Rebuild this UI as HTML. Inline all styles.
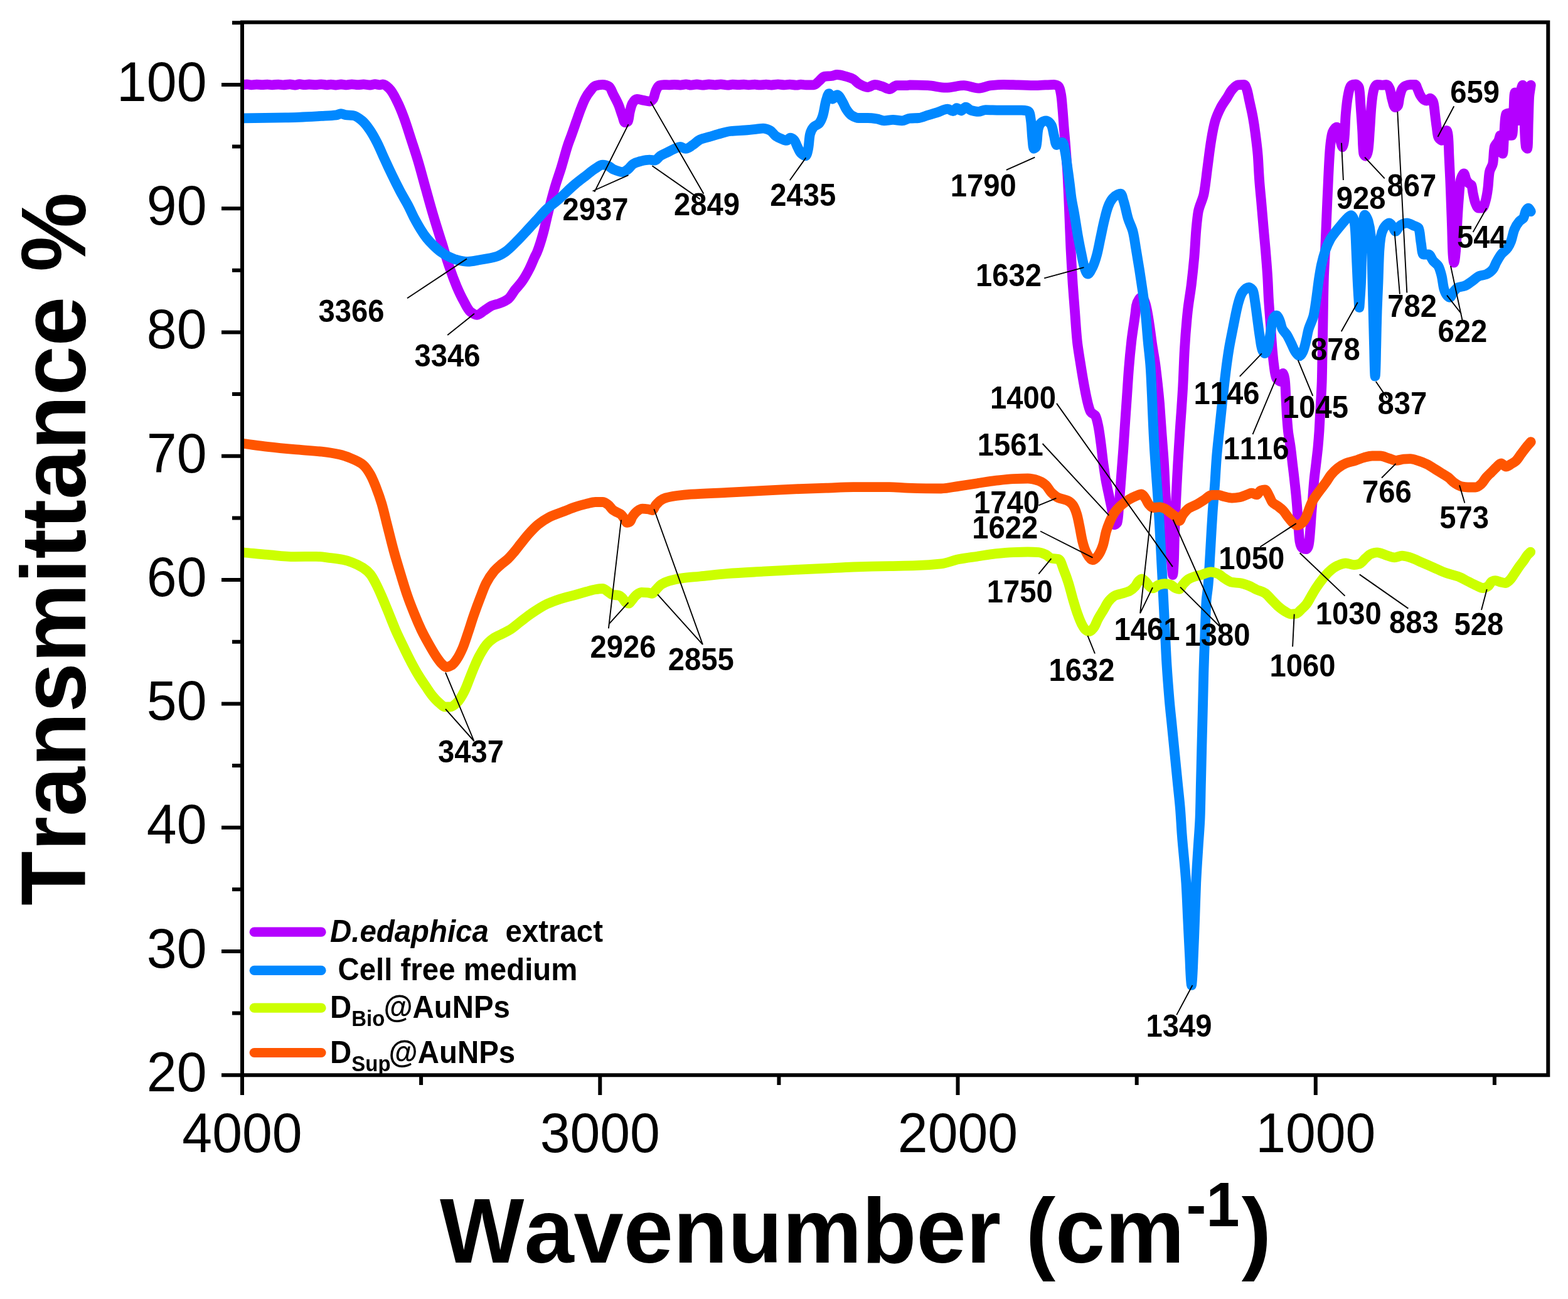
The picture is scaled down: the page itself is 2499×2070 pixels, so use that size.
<!DOCTYPE html>
<html lang="en"><head><meta charset="utf-8"><title>FTIR spectra</title>
<style>html,body{margin:0;padding:0;background:#fff}body{width:2499px;height:2070px;overflow:hidden}svg{display:block}text{font-family:"Liberation Sans",Arial,Helvetica,sans-serif;fill:#000;font-kerning:none}.tk{font-size:86px}.an{font-size:47.2px;font-weight:bold}.lg{font-size:47.4px;font-weight:bold}.ti{font-size:142px;font-weight:bold}.cv{fill:none;stroke-width:15.8;stroke-linejoin:round;stroke-linecap:round}.ld{stroke:#000;stroke-width:1.9;fill:none}.ax{stroke:#000;stroke-width:6.0;fill:none;stroke-linecap:butt}</style></head><body>
<svg width="2499" height="2070" viewBox="0 0 2499 2070">
<rect width="2499" height="2070" fill="#fff"/>
<defs><clipPath id="plot"><rect x="386.0" y="35.6" width="2081.3" height="1677.7"/></clipPath></defs>
<g clip-path="url(#plot)">
<path class="cv" stroke="#B400FF" d="M386.0 135.3C388.5 135.0 391.0 134.3 393.5 134.3C395.9 134.3 398.2 135.4 400.6 135.4C403.4 135.4 406.1 134.6 408.9 134.6C411.9 134.6 414.8 135.1 417.8 135.1C420.6 135.1 423.5 134.6 426.3 134.6C428.7 134.6 431.2 135.3 433.6 135.3C436.9 135.3 440.3 134.6 443.6 134.6C446.2 134.6 448.8 135.4 451.4 135.4C454.9 135.4 458.4 134.4 461.9 134.4C464.7 134.4 467.5 135.6 470.3 135.6C472.7 135.6 475.0 134.2 477.4 134.2C480.1 134.2 482.7 135.2 485.4 135.2C487.8 135.2 490.3 134.5 492.7 134.5C496.1 134.5 499.4 135.2 502.8 135.2C505.8 135.2 508.9 134.3 511.9 134.3C514.7 134.3 517.4 135.4 520.2 135.4C522.6 135.4 524.9 134.6 527.3 134.6C529.9 134.6 532.4 135.5 535.0 135.5C537.9 135.5 540.7 134.5 543.6 134.5C546.6 134.5 549.7 135.4 552.7 135.4C555.4 135.4 558.0 134.3 560.7 134.3C563.9 134.3 567.1 135.2 570.3 135.2C573.3 135.2 576.4 134.4 579.4 134.4C582.8 134.4 586.3 135.5 589.7 135.5C592.4 135.5 595.0 134.2 597.7 134.2C600.1 134.2 602.6 135.3 605.0 135.3C606.7 135.3 608.6 134.5 610.2 134.5C613.8 134.5 617.6 138.4 620.2 140.9C625.5 146.0 629.1 154.0 632.6 161.0C636.9 169.3 640.3 178.1 643.6 186.9C647.8 198.2 651.3 209.9 655.0 221.4C659.0 233.8 663.2 246.2 666.9 258.7C671.1 273.0 674.8 287.5 678.9 301.9C682.9 316.3 686.8 330.7 691.1 345.0C695.1 358.5 699.4 371.8 703.6 385.2C707.8 398.6 711.6 412.2 716.2 425.5C719.8 436.1 723.7 446.7 728.1 457.1C731.4 464.8 735.0 472.6 739.1 479.9C742.4 485.9 745.4 493.4 750.1 497.2C752.7 499.1 756.8 501.8 760.0 501.8C764.2 501.8 768.2 497.1 772.2 494.6C775.9 492.4 779.2 489.2 783.0 487.5C787.3 485.6 792.3 485.0 796.7 483.2C801.4 481.4 806.7 479.1 810.3 476.1C814.6 472.6 817.3 466.4 821.0 461.7C824.4 457.4 828.5 453.4 831.7 448.9C836.2 442.6 840.1 435.6 843.6 428.7C847.0 422.2 849.5 415.2 852.6 408.6C853.6 406.6 854.8 404.6 855.7 402.5C859.9 392.3 863.0 381.6 865.9 370.9C868.8 360.5 870.8 349.7 873.5 339.2C876.9 325.8 880.3 312.3 884.2 299.0C887.3 288.4 891.1 278.0 894.4 267.4C898.2 255.0 901.3 242.3 905.4 230.0C906.9 225.5 908.7 221.1 910.3 216.7C913.1 209.1 915.7 201.4 918.4 193.7C920.8 187.0 923.0 180.2 925.6 173.6C927.9 167.8 930.1 161.8 933.0 156.4C935.1 152.4 937.8 148.4 940.7 144.9C943.1 142.0 945.7 137.9 948.9 136.8C952.1 135.7 956.6 134.8 960.4 134.8C963.8 134.8 968.1 136.3 970.4 137.7C973.6 139.7 975.3 146.2 977.6 150.6C980.6 156.3 983.8 162.0 986.2 167.9C988.4 173.5 989.9 179.5 992.0 185.1C993.3 188.5 994.2 195.2 996.3 195.2C997.2 195.2 1000.0 194.4 1000.6 193.7C1002.4 191.5 1002.4 184.1 1003.5 179.4C1004.7 174.5 1005.7 169.0 1007.8 165.0C1009.2 162.3 1012.2 157.8 1015.0 157.8C1018.2 157.8 1022.7 159.4 1026.5 160.1C1029.4 160.6 1032.5 161.5 1035.1 161.5C1037.2 161.5 1039.8 159.3 1040.9 157.8C1043.1 154.8 1043.4 148.9 1045.2 144.9C1046.6 141.8 1048.4 137.1 1050.9 136.2C1052.6 135.6 1055.7 135.1 1058.1 135.1C1060.7 135.1 1063.4 135.3 1066.0 135.3C1068.9 135.3 1071.9 134.8 1074.8 134.8C1077.9 134.8 1081.1 135.6 1084.2 135.6C1087.2 135.6 1090.3 134.3 1093.3 134.3C1096.0 134.3 1098.7 135.6 1101.4 135.6C1104.5 135.6 1107.5 134.5 1110.6 134.5C1113.5 134.5 1116.4 135.7 1119.3 135.7C1122.8 135.7 1126.3 134.5 1129.8 134.5C1132.9 134.5 1136.1 135.3 1139.2 135.3C1142.4 135.3 1145.6 134.4 1148.8 134.4C1152.4 134.4 1156.0 135.7 1159.6 135.7C1162.2 135.7 1164.9 134.6 1167.5 134.6C1170.7 134.6 1173.8 135.2 1177.0 135.2C1179.9 135.2 1182.8 134.7 1185.7 134.7C1188.1 134.7 1190.6 135.3 1193.0 135.3C1196.3 135.3 1199.6 134.7 1202.9 134.7C1205.5 134.7 1208.1 135.4 1210.7 135.4C1214.1 135.4 1217.6 134.7 1221.0 134.7C1223.9 134.7 1226.7 135.5 1229.6 135.5C1233.0 135.5 1236.5 134.3 1239.9 134.3C1243.3 134.3 1246.7 135.4 1250.1 135.4C1252.9 135.4 1255.8 134.6 1258.6 134.6C1262.0 134.6 1265.5 135.7 1268.9 135.7C1271.4 135.7 1273.8 134.7 1276.3 134.7C1278.9 134.7 1281.5 135.3 1284.1 135.3C1288.3 135.4 1293.0 135.4 1296.7 135.4C1299.9 135.4 1302.6 131.3 1305.4 129.1C1308.3 126.8 1310.8 122.4 1314.0 121.9C1317.3 121.4 1321.7 121.5 1325.5 121.0C1328.4 120.7 1331.2 119.0 1334.1 119.0C1338.9 119.0 1343.8 120.7 1348.5 121.9C1352.4 122.9 1356.6 124.3 1360.0 126.2C1363.1 127.9 1365.5 131.6 1368.6 133.4C1372.9 135.9 1378.2 139.1 1383.0 139.1C1386.8 139.1 1390.6 134.8 1394.5 134.8C1398.3 134.8 1402.2 136.6 1406.0 137.7C1409.9 138.9 1413.8 142.0 1417.5 142.0C1421.4 142.0 1425.0 136.2 1429.0 136.2C1434.4 136.2 1440.5 136.2 1446.2 136.2C1447.5 136.2 1448.7 135.4 1450.0 135.4C1459.4 135.4 1469.2 135.8 1478.7 136.2C1488.3 136.6 1497.9 139.7 1507.5 139.7C1517.1 139.7 1526.7 136.2 1536.2 136.2C1543.9 136.2 1551.6 140.6 1559.2 140.6C1566.0 140.6 1572.6 136.9 1579.4 136.2C1586.0 135.5 1592.8 134.8 1599.5 134.8C1607.2 134.8 1614.8 135.2 1622.5 135.4C1632.1 135.7 1641.6 136.2 1651.2 136.2C1660.8 136.2 1670.8 134.8 1680.0 134.8C1682.4 134.8 1685.9 136.4 1687.0 137.7C1689.2 140.1 1690.3 146.2 1691.0 150.6C1692.3 158.1 1692.7 165.9 1693.4 173.6C1694.3 183.2 1694.8 192.8 1695.6 202.4C1696.5 213.9 1697.7 225.4 1698.5 236.9C1699.6 251.3 1700.7 265.6 1701.5 280.0C1702.5 299.2 1703.3 318.3 1704.1 337.5C1704.9 356.7 1705.5 375.8 1706.4 395.0C1707.4 414.2 1708.5 433.3 1709.7 452.5C1710.7 466.9 1711.9 481.2 1713.0 495.6C1714.2 511.4 1715.1 527.3 1716.7 543.1C1718.0 555.6 1720.3 568.1 1722.2 580.5C1724.0 592.0 1725.9 603.5 1728.0 615.0C1729.8 624.6 1731.5 634.3 1734.0 643.7C1735.2 648.1 1736.3 653.3 1738.5 656.7C1739.9 659.0 1744.4 660.1 1745.7 662.4C1748.0 666.5 1749.1 672.9 1750.2 678.2C1752.2 687.7 1753.3 697.4 1754.6 707.0C1756.0 717.5 1757.0 728.1 1758.4 738.6C1759.6 747.2 1760.8 755.9 1762.3 764.5C1764.0 774.1 1766.2 783.6 1768.2 793.2C1769.8 800.9 1771.6 808.5 1772.9 816.2C1774.0 822.9 1773.9 836.4 1775.9 836.4C1776.5 836.4 1779.9 834.7 1780.3 833.5C1782.7 826.4 1782.6 812.4 1783.6 801.9C1784.9 787.5 1785.9 773.1 1787.0 758.7C1788.1 744.3 1789.2 730.0 1790.3 715.6C1791.3 701.2 1792.2 686.9 1793.2 672.5C1794.2 658.1 1795.2 643.8 1796.2 629.4C1797.2 615.0 1798.0 600.6 1799.2 586.2C1800.3 571.8 1801.7 557.4 1803.3 543.1C1805.0 528.7 1807.5 514.4 1809.4 500.0C1810.0 495.6 1810.2 491.1 1811.1 486.9C1811.7 483.7 1813.0 480.0 1814.8 477.5C1815.7 476.1 1817.5 474.0 1818.9 474.0C1820.3 474.0 1822.1 476.1 1823.0 477.5C1824.6 480.0 1825.6 483.7 1826.4 486.9C1829.0 497.1 1830.4 507.7 1832.0 518.2C1833.6 528.6 1834.8 539.1 1836.3 549.5C1837.9 560.0 1839.9 570.3 1841.3 580.8C1842.7 591.2 1843.8 601.6 1845.0 612.0C1846.1 622.4 1847.2 632.9 1848.1 643.3C1848.9 653.7 1849.5 664.2 1850.3 674.6C1851.0 685.0 1851.8 695.5 1852.6 705.9C1853.4 716.2 1854.3 726.6 1854.9 736.9C1855.9 752.5 1856.4 768.2 1857.3 783.8C1858.6 804.7 1860.3 825.6 1862.1 846.4C1863.5 862.0 1865.2 877.7 1866.8 893.3C1867.6 900.9 1868.5 916.0 1869.1 916.0C1869.8 916.0 1870.5 900.9 1870.9 893.3C1871.5 877.7 1871.6 862.0 1872.2 846.4C1872.9 825.5 1873.9 804.7 1874.9 783.8C1875.7 768.2 1876.5 752.5 1877.4 736.9C1878.3 721.3 1879.3 705.6 1880.3 690.0C1881.1 676.7 1882.2 663.3 1883.1 650.0C1883.8 638.3 1884.7 626.7 1885.3 615.0C1886.3 595.8 1886.8 576.6 1887.9 557.5C1889.1 536.8 1890.7 516.2 1892.9 495.6C1894.4 481.2 1897.2 466.9 1898.9 452.5C1900.6 438.2 1902.1 423.8 1903.4 409.4C1904.6 395.0 1905.2 380.6 1906.4 366.2C1907.3 356.6 1908.1 346.9 1909.7 337.5C1911.3 327.7 1916.8 318.5 1918.7 308.7C1921.4 294.6 1922.6 280.0 1924.6 265.6C1926.5 251.2 1928.1 236.8 1930.5 222.5C1932.1 212.8 1933.8 203.0 1936.4 193.7C1938.7 185.8 1942.2 178.0 1946.0 170.7C1948.6 165.7 1952.1 161.2 1955.2 156.4C1958.3 151.6 1960.7 145.9 1964.4 142.0C1966.8 139.5 1969.9 135.8 1973.2 135.4C1976.1 135.0 1980.8 134.8 1982.9 134.8C1984.8 134.8 1986.1 139.6 1987.0 142.2C1989.0 148.0 1989.8 154.5 1991.2 160.6C1993.1 169.4 1995.3 178.1 1996.8 186.9C1998.4 195.7 1999.7 204.5 2000.8 213.3C2002.3 224.7 2003.8 236.1 2004.7 247.5C2005.7 260.6 2006.1 273.8 2007.1 287.0C2008.0 300.2 2009.5 313.3 2010.6 326.5C2011.8 339.7 2012.8 352.8 2014.0 366.0C2015.1 379.2 2016.5 392.3 2017.5 405.5C2018.6 418.7 2019.7 431.8 2020.4 445.0C2021.0 455.4 2021.3 465.9 2021.9 476.3C2022.7 489.5 2023.8 502.6 2024.8 515.8C2025.7 529.0 2026.5 542.2 2027.6 555.3C2028.4 564.1 2029.1 573.0 2030.3 581.7C2031.2 588.7 2031.9 597.4 2034.3 602.7C2035.2 604.8 2039.6 608.0 2040.8 608.0C2042.8 608.0 2043.6 594.8 2044.8 594.8C2046.0 594.8 2047.6 603.5 2048.0 608.0C2048.8 616.6 2049.0 625.5 2049.4 634.3C2049.9 643.1 2050.3 651.8 2050.8 660.6C2051.4 669.4 2052.0 678.2 2052.9 687.0C2053.9 695.8 2055.8 704.5 2056.9 713.3C2058.1 722.0 2059.0 730.8 2060.0 739.6C2061.1 748.4 2062.2 757.2 2063.1 766.0C2064.1 774.8 2065.1 783.5 2065.9 792.3C2066.7 801.1 2067.4 809.8 2068.0 818.6C2068.6 827.4 2069.1 836.2 2069.8 845.0C2070.3 851.1 2070.6 857.6 2071.6 863.4C2072.2 867.0 2074.0 872.5 2076.4 873.9C2077.5 874.5 2080.5 875.2 2081.7 875.2C2083.4 875.2 2085.1 871.0 2085.6 868.7C2087.2 861.5 2087.5 852.9 2088.2 845.0C2089.0 836.2 2089.4 827.4 2090.1 818.6C2090.8 809.8 2091.5 801.1 2092.2 792.3C2092.9 783.5 2093.5 774.8 2094.3 766.0C2095.1 757.2 2096.4 748.4 2097.4 739.6C2098.4 730.8 2099.5 722.1 2100.4 713.3C2101.2 704.5 2101.9 695.8 2102.5 687.0C2103.0 678.2 2103.4 669.4 2103.9 660.6C2104.4 651.8 2104.9 643.1 2105.4 634.3C2105.9 625.5 2106.4 616.8 2106.7 608.0C2107.1 594.7 2107.2 581.3 2107.5 568.0C2107.8 553.7 2108.0 539.3 2108.3 525.0C2108.8 498.3 2109.0 471.7 2109.8 445.0C2110.2 430.0 2111.3 415.0 2112.0 400.0C2112.8 381.7 2113.5 363.3 2114.3 345.0C2115.0 328.7 2115.7 312.3 2116.5 296.0C2117.1 282.3 2117.7 268.7 2118.5 255.0C2119.0 246.3 2119.5 237.6 2120.5 229.0C2121.2 222.8 2122.0 215.9 2123.8 210.6C2124.8 207.7 2128.3 202.7 2130.4 202.7C2131.7 202.7 2133.7 206.1 2134.3 208.0C2135.9 213.4 2135.6 220.4 2136.9 226.4C2137.5 229.1 2138.8 234.3 2139.6 234.3C2140.6 234.3 2141.8 227.3 2142.2 223.8C2143.8 210.0 2143.6 195.7 2144.8 181.7C2145.7 171.1 2146.7 160.3 2148.8 150.1C2149.8 145.2 2151.3 137.1 2154.1 135.6C2155.3 134.9 2158.8 134.3 2160.6 134.3C2162.7 134.3 2165.4 137.5 2165.9 139.5C2167.7 147.2 2167.7 158.8 2168.5 168.5C2169.5 181.7 2170.4 194.8 2171.2 208.0C2172.0 220.3 2171.7 234.3 2173.3 244.8C2173.5 246.2 2175.6 248.8 2176.4 248.8C2178.1 248.8 2179.9 242.8 2180.4 239.6C2182.0 229.6 2182.2 218.5 2183.0 208.0C2184.0 194.8 2184.4 181.6 2185.7 168.5C2186.5 159.7 2187.3 150.0 2189.6 142.2C2190.4 139.5 2192.7 134.8 2194.9 134.8C2196.9 134.8 2200.2 135.6 2202.8 135.6C2205.0 135.6 2207.6 134.8 2209.4 134.8C2211.5 134.8 2213.7 138.6 2214.6 140.8C2216.7 145.7 2216.9 152.4 2218.6 158.0C2219.9 162.5 2221.2 171.1 2223.8 171.1C2224.7 171.1 2227.2 169.6 2227.8 168.5C2229.4 165.5 2229.4 159.6 2230.4 155.3C2231.5 150.9 2232.4 145.9 2234.4 142.2C2235.5 140.2 2237.6 137.8 2239.6 136.9C2241.8 135.9 2244.8 134.8 2247.5 134.8C2250.1 134.8 2253.7 134.8 2255.4 134.8C2257.2 134.8 2258.2 139.7 2259.4 142.2C2260.8 145.2 2261.7 148.6 2263.3 151.4C2265.0 154.3 2267.2 157.9 2269.9 159.3C2271.0 159.9 2272.7 160.6 2273.9 160.6C2275.8 160.6 2277.6 156.6 2279.1 156.6C2281.1 156.6 2283.7 160.8 2284.4 163.2C2285.9 168.6 2286.2 175.5 2287.0 181.7C2287.9 188.7 2288.7 195.7 2289.7 202.7C2290.5 208.0 2290.8 214.2 2292.3 218.5C2293.0 220.5 2296.5 223.8 2297.6 223.8C2299.5 223.8 2299.4 213.7 2301.5 210.6C2302.2 209.5 2304.9 208.0 2305.5 208.0C2307.0 208.0 2307.8 215.0 2308.1 218.5C2308.9 228.0 2309.0 237.8 2309.4 247.5C2310.0 260.7 2310.7 273.8 2311.3 287.0C2311.9 300.2 2312.3 313.3 2312.8 326.5C2313.3 339.7 2313.8 352.8 2314.2 366.0C2314.6 379.2 2314.7 392.4 2315.5 405.5C2315.8 409.9 2316.7 418.6 2317.3 418.6C2318.5 418.6 2320.1 401.1 2320.7 392.3C2321.6 379.2 2321.9 366.0 2322.6 352.8C2323.3 339.6 2324.1 326.4 2325.2 313.3C2325.9 304.5 2326.3 295.2 2327.8 287.0C2328.5 283.3 2331.5 276.4 2333.1 276.4C2334.6 276.4 2335.4 283.8 2337.1 287.0C2338.1 288.9 2339.5 290.8 2341.0 292.2C2342.1 293.3 2344.4 293.8 2345.0 294.9C2346.6 297.9 2346.6 303.7 2347.6 308.0C2348.8 313.3 2349.6 319.0 2351.5 323.8C2352.6 326.6 2354.5 331.7 2356.8 331.7C2358.1 331.7 2361.0 331.7 2362.1 331.7C2364.6 331.7 2366.2 324.8 2367.3 321.2C2369.3 314.5 2370.4 307.2 2371.3 300.1C2372.4 291.4 2372.4 282.2 2373.9 273.8C2374.7 269.3 2378.4 265.1 2379.2 260.6C2380.7 252.2 2380.2 242.3 2381.8 234.3C2382.5 230.6 2386.8 227.5 2388.4 223.8C2389.5 221.3 2390.4 215.9 2391.0 215.9C2393.0 215.9 2394.1 244.8 2395.0 244.8C2396.2 244.8 2396.6 220.2 2397.6 208.0C2398.3 199.2 2398.3 185.7 2400.3 181.7C2400.6 181.1 2404.0 180.3 2404.2 180.3C2406.3 180.3 2404.7 215.9 2406.8 215.9C2407.0 215.9 2409.3 215.9 2409.5 215.9C2411.6 215.9 2411.2 193.1 2412.1 181.7C2413.0 170.3 2412.7 147.4 2414.7 147.4C2415.0 147.4 2418.6 149.0 2418.7 150.1C2419.8 159.5 2419.4 192.2 2420.0 192.2C2420.6 192.2 2421.0 163.9 2422.6 150.1C2423.2 145.2 2426.1 135.6 2426.6 135.6C2428.2 135.6 2428.4 166.3 2429.2 181.7C2430.1 199.2 2429.7 219.5 2431.9 234.3C2432.0 235.2 2433.9 236.9 2434.0 236.9C2435.5 236.9 2435.3 208.8 2435.8 194.8C2436.3 181.6 2436.4 168.4 2437.1 155.3C2437.5 148.7 2438.9 142.2 2439.8 135.6"/>
<path class="cv" stroke="#0088FF" d="M388.9 188.3C410.9 188.0 433.0 187.9 455.0 187.4C474.2 187.0 493.3 185.9 512.5 184.9C520.3 184.5 528.4 184.3 536.0 183.4C538.5 183.1 540.9 181.1 543.4 181.1C545.9 181.1 548.3 182.8 550.8 183.1C554.7 183.6 559.0 183.5 562.7 184.0C568.0 184.7 573.2 189.1 577.4 192.6C582.0 196.4 585.8 201.9 589.3 207.0C593.6 213.3 597.4 220.2 600.9 227.1C605.2 235.5 608.7 244.4 612.7 253.0C616.6 261.7 620.6 270.3 624.8 278.9C629.0 287.6 633.3 296.2 637.7 304.7C641.8 312.5 646.5 319.9 650.6 327.7C654.0 334.3 657.0 341.3 660.4 347.9C663.5 353.7 666.7 359.5 670.2 365.1C673.2 370.0 676.5 375.0 680.1 379.5C683.3 383.5 687.0 387.4 690.7 391.0C694.3 394.5 698.1 398.1 702.2 401.1C705.8 403.7 709.7 406.2 713.7 408.2C718.3 410.5 723.2 412.8 728.1 414.0C733.7 415.4 739.6 416.9 745.4 416.9C752.1 416.9 758.8 415.1 765.5 414.0C774.2 412.6 783.3 411.3 791.4 408.8C796.4 407.2 801.3 404.1 805.7 401.1C812.0 396.8 817.4 390.7 823.0 385.2C828.6 379.7 833.9 373.8 839.3 368.0C844.6 362.3 849.9 356.5 855.2 350.7C860.5 345.0 865.4 338.8 871.0 333.5C876.5 328.3 883.0 324.1 888.8 319.1C897.9 311.2 906.3 302.2 915.5 294.4C921.4 289.4 927.7 284.7 933.8 280.0C938.8 276.1 943.6 271.7 948.9 268.5C952.5 266.3 956.4 262.7 960.4 262.7C963.1 262.7 966.4 263.4 969.0 264.2C972.1 265.1 974.5 268.6 977.6 269.9C982.0 271.8 987.4 274.2 992.0 274.2C995.0 274.2 998.1 271.6 1000.6 269.9C1003.8 267.7 1005.9 263.2 1009.2 261.3C1012.5 259.4 1016.8 257.9 1020.7 257.0C1025.4 255.9 1030.3 254.7 1035.1 254.7C1038.0 254.7 1041.2 255.6 1043.7 255.6C1047.0 255.6 1049.3 250.4 1052.4 248.4C1055.9 246.1 1060.1 244.5 1063.9 242.6C1067.7 240.7 1071.5 238.5 1075.4 236.9C1078.2 235.8 1081.1 234.0 1084.0 234.0C1086.9 234.0 1089.8 236.9 1092.6 236.9C1096.6 236.9 1100.5 233.3 1104.1 231.1C1108.1 228.6 1111.4 224.4 1115.6 222.5C1120.0 220.6 1125.2 219.6 1130.0 218.2C1134.8 216.8 1139.6 215.2 1144.4 213.9C1151.1 212.1 1157.7 209.7 1164.5 209.0C1172.1 208.2 1179.8 208.1 1187.5 207.5C1193.2 207.0 1199.0 206.4 1204.7 205.8C1208.5 205.4 1212.4 204.7 1216.2 204.7C1220.1 204.7 1224.4 206.5 1227.7 208.1C1231.0 209.7 1233.2 214.5 1236.4 216.7C1239.0 218.5 1242.0 219.9 1245.0 221.1C1247.8 222.2 1251.0 223.9 1253.6 223.9C1255.7 223.9 1257.4 219.6 1259.4 219.6C1261.2 219.6 1263.8 221.3 1265.1 222.5C1267.8 225.0 1268.9 230.2 1270.9 234.0C1272.7 237.4 1274.1 241.6 1276.6 244.1C1278.4 245.9 1282.4 248.4 1283.8 248.4C1285.9 248.4 1287.3 240.8 1288.1 236.9C1289.6 229.5 1289.4 221.1 1291.0 213.9C1291.9 209.9 1294.2 205.3 1296.7 202.4C1298.7 200.0 1303.4 199.0 1305.4 196.6C1307.9 193.7 1309.8 189.1 1311.1 185.1C1313.8 176.9 1314.3 167.5 1316.9 159.2C1318.0 155.8 1319.5 149.2 1321.2 149.2C1322.8 149.2 1324.7 157.8 1326.9 157.8C1329.0 157.8 1331.9 151.2 1334.1 151.2C1337.2 151.2 1340.3 158.2 1342.7 162.1C1344.9 165.7 1346.2 170.1 1348.5 173.6C1350.8 177.2 1353.7 181.6 1357.1 183.7C1360.2 185.7 1364.6 188.0 1368.6 188.0C1373.2 188.0 1378.2 188.0 1383.0 188.0C1387.8 188.0 1392.7 188.7 1397.4 189.4C1401.3 190.0 1405.0 192.3 1408.9 192.3C1413.6 192.3 1418.4 190.9 1423.2 190.9C1428.0 190.9 1432.9 192.3 1437.6 192.3C1441.8 192.3 1445.8 188.9 1450.0 188.6C1454.7 188.2 1459.7 188.3 1464.4 188.0C1469.3 187.6 1473.9 185.1 1478.7 183.7C1483.5 182.3 1488.3 180.9 1493.1 179.4C1498.9 177.6 1504.7 173.6 1510.4 173.6C1513.3 173.6 1516.4 177.1 1519.0 177.1C1521.1 177.1 1522.7 172.2 1524.7 172.2C1526.9 172.2 1529.6 176.5 1531.9 176.5C1534.4 176.5 1536.6 170.7 1539.1 170.7C1541.8 170.7 1544.6 175.0 1547.7 175.9C1551.3 176.9 1555.4 177.9 1559.2 177.9C1563.1 177.9 1566.8 175.1 1570.7 175.1C1578.2 175.1 1586.0 175.6 1593.7 175.6C1605.2 175.6 1616.8 175.6 1628.2 175.6C1632.1 175.6 1638.3 176.7 1639.7 177.9C1641.7 179.6 1642.5 188.4 1643.2 193.7C1644.4 203.2 1644.4 213.0 1645.5 222.5C1646.0 227.3 1646.4 236.9 1647.8 236.9C1648.2 236.9 1650.8 235.1 1651.2 234.0C1653.6 226.8 1652.7 214.2 1654.7 205.2C1655.5 201.7 1657.5 197.1 1659.9 195.2C1661.5 193.9 1664.9 192.3 1667.1 192.3C1670.3 192.3 1674.3 196.7 1675.7 199.5C1678.0 204.0 1678.4 211.0 1680.0 216.7C1681.3 221.5 1682.0 231.1 1684.3 231.1C1685.1 231.1 1687.0 228.3 1688.6 227.7C1689.9 227.3 1692.1 226.8 1692.9 226.8C1695.2 226.8 1696.1 235.3 1697.1 239.7C1698.9 248.2 1699.8 257.0 1701.1 265.6C1702.5 275.2 1703.8 284.8 1705.0 294.4C1705.8 301.1 1706.5 307.8 1707.4 314.5C1708.8 324.1 1711.0 333.6 1712.6 343.2C1714.4 353.7 1715.9 364.4 1717.7 374.9C1719.4 384.5 1721.2 394.1 1723.3 403.6C1725.1 412.3 1726.4 421.5 1729.4 429.5C1730.3 432.0 1732.1 436.7 1733.6 436.7C1735.9 436.7 1739.1 430.2 1740.9 426.6C1744.0 420.4 1746.2 413.3 1748.0 406.5C1750.3 398.0 1751.8 389.2 1753.6 380.6C1755.7 371.0 1757.5 361.4 1759.8 351.9C1761.7 344.2 1763.4 336.2 1766.2 328.9C1767.9 324.4 1770.4 319.4 1773.4 315.9C1775.3 313.7 1777.9 311.3 1780.6 310.2C1782.2 309.5 1784.7 308.7 1785.8 308.7C1788.3 308.7 1789.4 316.3 1790.7 320.2C1793.8 329.5 1795.2 339.6 1798.1 349.0C1800.2 355.8 1803.9 362.2 1805.6 369.1C1807.7 377.5 1808.8 386.4 1810.2 395.0C1812.2 406.5 1814.1 418.0 1815.9 429.5C1817.8 442.0 1819.7 454.4 1821.5 466.9C1822.9 477.4 1824.5 487.9 1825.6 498.5C1827.2 513.3 1828.1 528.2 1829.5 543.1C1830.8 557.5 1832.8 571.8 1833.7 586.2C1834.7 600.6 1835.2 615.0 1835.9 629.4C1836.5 643.8 1837.0 658.1 1837.7 672.5C1838.3 686.9 1839.1 701.2 1839.9 715.6C1840.8 730.0 1841.9 744.3 1842.9 758.7C1843.9 773.1 1845.1 787.5 1846.0 801.9C1847.2 821.1 1848.2 840.2 1849.2 859.4C1850.0 872.9 1850.7 886.5 1851.4 900.0C1852.2 914.4 1852.9 928.7 1853.6 943.1C1854.6 962.3 1855.5 981.4 1856.5 1000.6C1857.5 1019.8 1858.2 1038.9 1859.4 1058.1C1860.6 1077.3 1862.1 1096.5 1863.7 1115.6C1864.9 1130.0 1866.6 1144.3 1868.0 1158.7C1869.4 1173.1 1870.9 1187.5 1872.3 1201.9C1873.7 1216.3 1875.2 1230.6 1876.6 1245.0C1878.0 1259.4 1879.7 1273.7 1880.9 1288.1C1882.1 1302.4 1882.7 1316.8 1883.8 1331.2C1885.7 1356.7 1888.8 1382.0 1890.4 1407.5C1891.6 1426.6 1892.3 1445.8 1893.2 1465.0C1894.1 1484.2 1895.1 1503.3 1896.1 1522.5C1896.8 1535.9 1897.0 1549.4 1898.1 1562.7C1898.3 1565.1 1898.7 1569.9 1899.0 1569.9C1899.3 1569.9 1899.7 1565.1 1899.9 1562.7C1901.0 1549.4 1901.3 1535.9 1901.9 1522.5C1902.8 1503.3 1903.5 1484.2 1904.2 1465.0C1904.9 1445.8 1905.4 1426.7 1906.2 1407.5C1907.0 1388.3 1908.4 1369.2 1909.6 1350.0C1910.6 1334.2 1912.0 1318.3 1912.6 1302.5C1913.3 1283.4 1913.5 1264.2 1914.0 1245.0C1914.5 1225.8 1914.9 1206.7 1915.4 1187.5C1915.9 1168.3 1916.4 1149.2 1916.9 1130.0C1917.4 1110.8 1917.8 1091.7 1918.3 1072.5C1918.8 1053.3 1919.6 1034.2 1920.3 1015.0C1921.0 995.8 1921.4 976.6 1922.6 957.5C1923.2 948.7 1924.9 940.0 1925.6 931.2C1927.2 912.1 1928.0 892.9 1929.2 873.7C1930.3 854.5 1931.3 835.4 1932.6 816.2C1933.6 801.8 1935.0 787.5 1936.1 773.1C1937.1 758.7 1937.8 744.3 1938.9 730.0C1940.0 715.6 1941.7 701.3 1943.2 686.9C1944.7 672.5 1946.2 658.1 1947.7 643.7C1950.0 623.0 1952.2 602.3 1954.9 581.7C1956.1 572.9 1957.3 564.1 1958.8 555.3C1960.2 546.5 1962.1 537.8 1963.8 529.0C1965.6 520.2 1967.2 511.4 1969.0 502.7C1970.5 495.6 1971.9 488.5 1973.9 481.6C1975.5 476.2 1977.3 469.9 1980.1 465.8C1982.3 462.7 1987.0 457.9 1990.4 457.9C1992.5 457.9 1995.9 461.1 1996.8 463.2C1998.8 467.9 1999.3 475.4 2000.3 481.6C2001.7 490.3 2002.7 499.1 2003.9 507.9C2005.2 517.6 2006.3 527.3 2007.9 536.9C2009.0 544.0 2009.6 551.8 2011.9 558.0C2012.6 559.9 2014.7 563.2 2015.8 563.2C2017.8 563.2 2020.1 556.4 2021.1 552.7C2023.1 545.2 2023.6 536.9 2025.0 529.0C2026.2 522.0 2026.7 513.6 2029.0 507.9C2029.8 505.9 2032.8 502.7 2034.3 502.7C2036.3 502.7 2038.3 507.8 2039.5 510.6C2041.3 514.7 2041.7 519.7 2043.5 523.7C2045.2 527.5 2049.1 530.6 2051.4 534.3C2053.9 538.4 2055.8 543.0 2058.0 547.4C2060.2 551.8 2061.8 556.8 2064.5 560.6C2066.2 563.0 2069.0 567.2 2071.1 567.2C2073.0 567.2 2075.3 563.0 2076.4 560.6C2079.0 555.2 2080.2 548.4 2081.7 542.2C2083.1 536.7 2083.8 531.0 2085.3 525.6C2087.4 517.8 2091.8 510.5 2093.6 502.6C2095.3 495.1 2096.3 487.3 2097.4 479.6C2099.1 468.1 2100.3 456.5 2102.0 445.0C2103.2 437.3 2104.4 429.6 2106.0 422.0C2107.7 414.3 2109.8 406.5 2112.3 399.0C2114.3 393.1 2116.8 387.2 2119.8 381.8C2122.0 377.8 2125.1 374.0 2127.9 370.3C2131.2 366.0 2134.7 361.7 2138.2 357.6C2141.2 354.1 2144.0 350.3 2147.4 347.3C2149.2 345.8 2151.6 343.2 2153.2 343.2C2154.9 343.2 2156.9 346.9 2157.5 349.0C2158.8 353.7 2159.4 359.6 2159.8 365.0C2160.7 376.6 2161.0 388.3 2161.5 400.0C2162.2 415.0 2162.7 430.0 2163.5 445.0C2164.1 456.3 2164.7 467.7 2165.5 479.0C2165.7 482.7 2166.0 490.0 2166.3 490.0C2166.6 490.0 2167.0 482.7 2167.3 479.0C2168.1 467.7 2168.9 456.3 2169.3 445.0C2169.9 430.0 2170.0 415.0 2170.5 400.0C2170.9 386.7 2171.1 373.2 2172.0 360.0C2172.4 354.1 2173.7 342.4 2175.3 342.4C2176.3 342.4 2179.5 348.6 2180.5 352.0C2182.5 358.9 2183.8 366.6 2184.5 374.0C2185.4 383.3 2185.8 392.7 2186.2 402.0C2186.8 418.0 2187.1 434.0 2187.5 450.0C2187.9 465.2 2188.2 480.3 2188.6 495.5C2189.1 513.7 2189.5 531.8 2190.0 550.0C2190.4 564.3 2190.5 578.7 2191.1 593.0C2191.2 595.2 2191.4 599.5 2191.6 599.5C2191.8 599.5 2192.1 595.2 2192.2 593.0C2192.9 578.7 2192.9 564.3 2193.3 550.0C2193.7 531.8 2194.0 513.7 2194.6 495.5C2195.1 480.3 2195.9 465.2 2196.5 450.0C2197.1 433.3 2197.4 416.6 2198.3 400.0C2198.7 392.7 2199.4 385.2 2200.5 378.0C2201.3 373.2 2202.9 367.9 2205.0 364.0C2206.9 360.6 2211.4 355.3 2214.4 355.3C2216.2 355.3 2218.0 359.0 2219.5 361.0C2221.3 363.4 2222.5 368.6 2224.2 368.6C2226.1 368.6 2228.0 362.9 2230.4 360.7C2231.9 359.2 2233.8 357.5 2235.7 356.8C2237.7 356.1 2240.1 355.4 2242.3 355.4C2245.9 355.4 2249.4 357.9 2252.8 359.4C2255.5 360.6 2259.8 361.6 2260.7 363.3C2263.2 367.9 2263.2 379.1 2264.7 387.0C2265.9 393.2 2266.2 405.5 2268.6 405.5C2269.6 405.5 2274.5 405.5 2276.5 405.5C2279.9 405.5 2281.5 412.7 2284.4 416.0C2286.8 418.8 2290.6 420.9 2292.3 423.9C2294.8 428.4 2296.3 434.3 2297.6 439.7C2299.3 446.6 2299.6 454.1 2301.5 460.8C2302.6 464.5 2304.4 468.7 2306.8 471.3C2307.8 472.3 2309.6 473.9 2310.7 473.9C2312.9 473.9 2314.0 468.4 2316.0 466.0C2318.3 463.1 2320.9 459.4 2323.9 458.1C2326.9 456.8 2331.1 456.7 2334.4 455.5C2338.2 454.1 2341.5 451.2 2345.0 448.9C2349.5 446.0 2353.3 441.5 2358.1 439.7C2361.3 438.5 2365.5 438.3 2368.7 437.1C2372.6 435.6 2376.7 432.4 2379.2 429.2C2381.5 426.3 2382.6 422.1 2384.5 418.6C2386.9 414.1 2389.4 409.5 2392.4 405.5C2395.4 401.6 2400.2 398.9 2402.9 394.9C2405.0 391.8 2406.8 388.0 2408.2 384.4C2410.4 378.5 2411.1 371.8 2413.4 366.0C2415.2 361.4 2418.1 356.5 2421.3 352.8C2423.1 350.8 2426.6 349.6 2427.9 347.5C2429.8 344.4 2430.0 339.0 2431.9 335.7C2432.8 334.2 2434.6 331.7 2435.8 331.7C2437.2 331.7 2438.5 335.2 2439.8 337.0"/>
<path class="cv" stroke="#CCFF00" d="M388.9 880.5C401.3 881.6 413.8 882.9 426.2 883.9C440.6 885.1 455.0 887.1 469.4 887.1C480.9 887.1 492.4 886.8 503.9 886.8C511.6 886.8 519.3 888.2 526.9 889.1C533.6 889.9 540.4 890.7 547.0 892.0C551.9 893.0 556.8 894.6 561.4 896.3C567.3 898.5 573.4 901.5 578.6 904.9C582.8 907.6 587.0 911.2 590.1 915.0C593.5 919.2 596.1 924.5 598.7 929.4C602.1 935.9 605.1 942.7 608.1 949.5C611.4 957.1 614.5 964.8 617.7 972.5C622.0 983.0 626.0 993.7 630.5 1004.1C634.3 1012.8 638.5 1021.4 642.7 1030.0C646.6 1038.2 650.6 1046.4 654.8 1054.4C658.7 1061.7 662.6 1069.0 666.9 1076.0C670.4 1081.9 674.4 1087.5 678.2 1093.2C681.9 1098.6 685.3 1104.2 689.4 1109.1C692.8 1113.2 696.5 1117.3 700.6 1120.6C703.2 1122.7 706.0 1126.3 709.0 1126.3C711.6 1126.3 714.9 1126.3 717.5 1126.3C721.6 1126.3 725.8 1122.0 728.8 1119.1C733.3 1114.7 736.8 1107.9 739.9 1101.9C743.2 1095.5 745.5 1088.4 748.2 1081.7C751.0 1075.0 753.4 1068.2 756.3 1061.6C758.8 1055.8 761.4 1049.9 764.4 1044.4C767.7 1038.4 771.1 1032.2 775.4 1027.1C778.6 1023.4 782.5 1019.8 786.6 1017.1C790.8 1014.2 795.9 1012.3 800.6 1009.9C804.3 1008.0 808.2 1006.3 811.8 1004.1C817.8 1000.4 823.1 995.5 828.8 991.2C834.5 986.9 840.1 982.2 846.0 978.2C854.4 972.5 862.9 966.7 871.9 962.4C876.5 960.2 881.4 958.4 886.2 956.7C890.7 955.1 895.4 953.7 900.0 952.4C905.7 950.8 911.5 949.4 917.2 947.8C923.0 946.2 928.7 944.5 934.5 942.9C939.3 941.6 944.0 939.9 948.9 939.2C952.7 938.6 956.8 938.0 960.4 938.0C963.5 938.0 966.2 941.2 969.0 942.9C971.5 944.4 973.6 947.3 976.2 947.8C979.2 948.3 983.2 948.2 986.2 948.7C988.3 949.1 990.3 951.4 992.0 953.0C994.2 955.1 995.3 958.9 997.7 960.2C998.9 960.8 1000.8 961.6 1002.1 961.6C1003.8 961.6 1005.0 958.8 1006.4 957.3C1008.9 954.6 1010.8 950.9 1013.6 948.7C1016.0 946.7 1019.1 943.8 1022.2 943.8C1025.3 943.8 1028.9 944.1 1032.2 944.4C1034.6 944.6 1037.4 945.8 1039.4 945.8C1041.6 945.8 1043.3 942.0 1045.2 940.1C1048.1 937.2 1050.6 933.5 1053.8 931.4C1057.5 929.0 1062.3 927.0 1066.7 925.7C1073.2 923.8 1080.1 922.4 1086.9 921.4C1096.4 920.1 1106.0 919.5 1115.6 918.5C1130.0 917.1 1144.3 915.3 1158.7 914.2C1177.8 912.7 1197.0 911.8 1216.2 910.7C1235.4 909.6 1254.5 908.6 1273.7 907.6C1288.1 906.9 1302.5 906.3 1316.9 905.6C1331.3 904.9 1345.6 904.0 1360.0 903.5C1379.2 902.9 1398.3 902.5 1417.5 902.1C1431.9 901.8 1446.3 901.7 1460.6 901.2C1473.7 900.8 1487.1 899.9 1500.0 898.4C1509.7 897.3 1519.0 892.8 1528.7 891.0C1538.2 889.2 1547.9 888.1 1557.5 886.7C1567.1 885.3 1576.6 883.4 1586.2 882.4C1595.8 881.4 1605.4 880.5 1615.0 880.1C1622.7 879.8 1630.3 879.5 1638.0 879.5C1643.7 879.5 1649.6 879.7 1655.2 880.1C1659.1 880.4 1663.1 882.2 1666.7 883.8C1669.8 885.2 1672.2 888.9 1675.4 889.6C1678.9 890.4 1684.5 890.2 1686.9 891.0C1691.0 892.3 1693.0 902.6 1695.5 908.6C1698.2 915.1 1700.6 921.9 1702.7 928.7C1705.4 937.2 1707.4 946.0 1709.9 954.6C1712.2 962.3 1714.4 970.1 1717.1 977.6C1719.2 983.5 1721.3 989.5 1724.2 994.9C1725.8 997.9 1727.6 1001.5 1730.0 1003.5C1731.5 1004.7 1733.9 1006.4 1735.7 1006.4C1738.3 1006.4 1741.1 1002.8 1742.9 1000.6C1746.0 996.7 1747.5 990.9 1750.1 986.2C1752.8 981.3 1755.8 976.7 1758.7 971.9C1761.6 967.1 1763.9 961.6 1767.4 957.5C1770.1 954.3 1773.7 950.6 1777.4 948.9C1780.4 947.6 1784.2 947.0 1787.5 946.0C1791.8 944.7 1796.6 943.6 1800.4 941.7C1803.6 940.1 1806.7 937.2 1809.1 934.5C1811.3 932.0 1812.5 928.2 1814.8 925.9C1816.1 924.5 1818.1 922.4 1819.7 922.4C1821.9 922.4 1824.4 925.5 1826.3 927.3C1828.5 929.4 1829.8 932.8 1832.1 934.5C1833.7 935.7 1835.9 937.4 1837.8 937.4C1840.7 937.4 1843.3 933.1 1846.4 932.2C1849.5 931.2 1853.1 930.2 1856.5 930.2C1859.4 930.2 1862.5 930.9 1865.1 931.6C1868.2 932.4 1870.6 936.3 1873.7 937.4C1875.5 938.0 1878.0 938.8 1879.5 938.8C1881.9 938.8 1883.2 933.9 1885.2 931.6C1887.9 928.6 1890.6 925.1 1893.9 923.0C1896.8 921.2 1900.5 919.8 1903.9 918.7C1907.6 917.5 1911.6 916.8 1915.4 915.8C1920.2 914.5 1925.0 911.5 1929.8 911.5C1933.6 911.5 1937.8 913.0 1941.3 914.4C1945.0 915.8 1947.9 919.5 1951.4 921.6C1955.2 923.9 1959.0 927.1 1963.2 927.8C1967.3 928.5 1972.0 928.5 1976.3 929.1C1980.8 929.8 1985.3 931.4 1989.5 933.0C1994.1 934.7 1998.2 937.6 2002.7 939.6C2007.0 941.5 2012.0 942.6 2015.8 944.9C2019.8 947.3 2022.9 951.9 2026.4 955.4C2029.9 958.9 2033.2 962.8 2036.9 966.0C2040.2 968.8 2043.7 971.8 2047.4 973.9C2050.7 975.8 2054.3 978.6 2058.0 978.6C2060.5 978.6 2063.6 978.2 2065.9 977.8C2068.9 977.2 2071.3 973.5 2073.8 971.2C2076.5 968.7 2079.5 966.2 2081.7 963.3C2084.8 959.4 2087.0 954.6 2089.6 950.2C2092.2 945.8 2094.7 941.3 2097.5 937.0C2100.8 932.0 2104.3 927.1 2108.0 922.5C2111.3 918.4 2114.6 914.1 2118.5 910.7C2122.4 907.2 2126.9 903.4 2131.7 901.4C2135.7 899.7 2140.4 897.5 2144.8 897.5C2149.1 897.5 2153.6 900.1 2158.0 900.1C2160.6 900.1 2163.6 899.5 2165.9 898.8C2169.9 897.7 2172.9 892.6 2176.4 889.6C2179.0 887.4 2181.4 884.2 2184.3 883.0C2187.4 881.7 2191.4 880.4 2194.9 880.4C2199.3 880.4 2203.6 883.0 2208.0 884.3C2212.8 885.7 2217.6 888.3 2222.5 888.3C2226.4 888.3 2230.4 885.6 2234.4 885.6C2238.8 885.6 2243.3 887.1 2247.5 888.3C2253.9 890.1 2259.8 893.5 2266.0 896.2C2273.0 899.2 2280.0 902.4 2287.0 905.4C2293.2 908.1 2299.2 911.1 2305.5 913.3C2311.5 915.4 2318.0 916.4 2323.9 918.6C2329.4 920.6 2334.4 923.9 2339.7 926.5C2344.1 928.7 2348.4 931.1 2352.9 933.0C2356.3 934.5 2359.9 937.0 2363.4 937.0C2366.0 937.0 2369.2 935.6 2371.3 934.4C2373.9 932.9 2375.2 927.8 2377.9 926.5C2379.3 925.8 2381.4 925.1 2383.1 925.1C2386.2 925.1 2389.3 927.1 2392.4 927.8C2394.5 928.3 2396.9 929.1 2398.9 929.1C2401.3 929.1 2403.7 926.7 2405.5 925.1C2408.6 922.4 2410.9 918.2 2413.4 914.6C2416.1 910.7 2418.6 906.7 2421.3 902.8C2423.8 899.2 2426.7 895.8 2429.2 892.2C2431.0 889.6 2432.5 886.7 2434.5 884.3C2435.9 882.6 2437.6 881.2 2439.2 879.6"/>
<path class="cv" stroke="#FF5500" d="M388.9 707.0C401.3 708.6 413.7 710.5 426.2 711.9C440.6 713.5 455.0 714.9 469.4 716.2C483.8 717.5 498.2 718.1 512.5 719.7C522.1 720.8 531.8 722.2 541.2 724.3C547.1 725.6 552.9 727.7 558.5 730.0C565.5 732.8 573.3 736.2 578.7 740.7C583.3 744.6 587.2 750.9 590.4 756.5C593.9 762.8 596.6 769.8 599.3 776.6C602.6 785.1 605.7 793.8 608.3 802.5C611.4 813.0 613.8 823.8 616.5 834.5C620.2 848.9 623.6 863.3 627.5 877.6C630.9 890.1 634.7 902.6 638.5 915.0C642.0 926.5 645.4 938.1 649.4 949.5C652.7 959.2 656.5 968.7 660.4 978.2C663.9 986.9 667.6 995.6 671.6 1004.1C675.4 1011.9 679.6 1019.6 683.9 1027.1C687.7 1033.9 691.6 1040.8 696.0 1047.2C698.8 1051.2 701.6 1055.4 705.0 1058.7C706.8 1060.3 708.8 1063.1 710.9 1063.1C713.5 1063.1 717.2 1061.5 719.5 1060.2C723.1 1058.3 725.9 1053.7 728.4 1050.1C731.9 1044.9 734.7 1038.8 737.3 1032.9C740.8 1024.5 743.4 1015.7 746.4 1007.0C749.6 997.4 752.5 987.7 755.9 978.2C758.9 969.5 762.1 960.9 765.4 952.4C768.4 944.7 771.1 936.7 774.8 929.4C778.2 922.9 782.4 916.3 787.1 910.7C790.5 906.5 794.9 902.9 799.0 899.2C802.4 896.2 806.3 893.7 809.5 890.6C813.2 887.1 816.6 883.0 819.9 879.1C823.4 874.9 826.7 870.4 830.2 866.1C834.4 860.8 838.6 855.3 843.1 850.3C847.6 845.3 852.3 840.1 857.5 835.9C862.8 831.6 868.7 827.5 874.7 824.4C882.6 820.3 891.5 817.7 900.0 814.4C905.7 812.2 911.4 809.7 917.2 807.8C922.9 805.9 928.7 804.3 934.5 802.9C939.3 801.8 944.1 800.0 948.9 800.0C952.7 800.0 956.8 800.0 960.4 800.0C963.4 800.0 966.6 802.4 969.0 804.1C971.8 806.0 973.5 809.9 976.2 812.1C978.3 813.8 981.0 815.1 983.4 816.4C985.3 817.4 987.5 818.1 989.1 819.3C991.4 821.0 993.1 824.0 994.9 826.5C996.4 828.5 997.3 832.8 999.2 832.8C1000.3 832.8 1002.5 832.2 1003.5 831.7C1005.5 830.6 1006.2 826.1 1007.8 823.6C1009.8 820.5 1012.2 817.1 1015.0 815.0C1017.4 813.2 1020.6 810.7 1023.6 810.7C1026.8 810.7 1030.4 811.1 1033.7 811.5C1035.6 811.7 1037.9 813.0 1039.4 813.0C1041.9 813.0 1043.1 807.4 1045.2 804.9C1047.4 802.3 1049.7 799.6 1052.4 797.7C1054.9 795.9 1058.0 794.3 1061.0 793.4C1066.4 791.8 1072.4 790.8 1078.2 790.0C1085.8 789.0 1093.5 788.2 1101.2 787.7C1120.3 786.4 1139.5 785.8 1158.7 784.8C1177.9 783.8 1197.0 782.8 1216.2 781.9C1235.4 781.0 1254.5 779.9 1273.7 779.1C1288.1 778.5 1302.5 778.1 1316.9 777.6C1331.3 777.1 1345.6 776.2 1360.0 776.2C1379.2 776.2 1398.3 776.2 1417.5 776.2C1427.1 776.2 1436.6 777.3 1446.2 777.6C1464.1 778.1 1482.2 778.5 1500.0 778.5C1509.6 778.5 1519.1 776.0 1528.7 774.6C1538.3 773.2 1547.9 771.7 1557.5 770.2C1567.1 768.8 1576.6 767.0 1586.2 765.9C1595.8 764.8 1605.4 763.5 1615.0 763.1C1622.7 762.8 1630.4 762.5 1638.0 762.5C1643.8 762.5 1649.9 764.2 1655.2 765.9C1659.3 767.2 1663.5 770.2 1666.7 773.1C1670.1 776.2 1672.1 781.3 1675.4 784.6C1678.7 787.9 1682.7 791.3 1686.9 793.2C1691.2 795.2 1697.0 795.6 1701.2 797.6C1704.4 799.1 1707.8 801.9 1709.8 804.7C1712.6 808.6 1714.6 814.2 1716.1 819.1C1718.1 825.6 1719.2 832.5 1720.6 839.2C1722.2 846.8 1723.2 854.7 1725.1 862.2C1726.8 869.1 1729.0 876.5 1732.3 882.4C1734.3 886.1 1738.1 892.4 1741.3 892.4C1744.0 892.4 1748.0 888.0 1750.1 885.2C1753.6 880.5 1756.2 873.9 1758.1 868.0C1760.1 861.5 1760.9 854.5 1762.7 847.9C1764.4 842.0 1766.5 836.2 1768.9 830.6C1771.1 825.6 1773.6 820.5 1776.6 816.2C1779.6 812.0 1783.6 808.2 1787.5 804.7C1791.0 801.6 1794.9 798.5 1799.0 796.1C1802.6 793.9 1806.6 792.0 1810.5 790.4C1813.3 789.3 1816.6 787.5 1819.1 787.5C1821.3 787.5 1823.3 791.1 1824.9 793.2C1827.2 796.2 1828.3 800.5 1830.6 803.3C1832.5 805.5 1835.1 809.1 1837.8 809.1C1840.7 809.1 1844.6 808.2 1847.9 808.2C1850.8 808.2 1853.9 809.4 1856.5 810.5C1859.6 811.8 1862.3 814.7 1865.1 816.8C1868.0 819.0 1871.1 821.0 1873.7 823.4C1875.8 825.4 1877.8 830.0 1879.5 830.0C1881.4 830.0 1882.6 824.1 1884.4 821.4C1887.1 817.5 1890.3 813.2 1893.9 810.5C1897.9 807.5 1903.6 805.9 1908.2 803.3C1912.1 801.1 1915.9 798.5 1919.7 796.1C1923.5 793.7 1927.0 788.9 1931.2 788.9C1934.7 788.9 1938.9 788.9 1942.7 788.9C1945.2 788.9 1947.5 790.4 1950.0 791.0C1954.4 792.0 1958.8 793.6 1963.2 793.6C1967.5 793.6 1972.1 793.0 1976.3 792.3C1979.9 791.7 1983.4 789.7 1986.9 788.4C1989.5 787.5 1992.2 785.7 1994.8 785.7C1997.4 785.7 2000.5 788.4 2002.7 788.4C2005.2 788.4 2006.7 782.7 2009.2 781.8C2011.1 781.1 2014.1 780.5 2015.8 780.5C2018.6 780.5 2020.5 786.5 2022.4 789.7C2024.4 793.0 2025.4 797.4 2027.7 800.2C2029.9 802.9 2033.9 804.5 2036.9 806.8C2039.6 808.9 2042.5 811.0 2044.8 813.4C2047.8 816.5 2050.0 820.5 2052.7 823.9C2055.2 827.0 2057.6 830.6 2060.6 833.1C2062.5 834.7 2064.9 837.1 2067.2 837.1C2069.3 837.1 2072.0 835.6 2073.8 834.4C2076.4 832.7 2078.7 829.4 2080.3 826.5C2082.6 822.6 2083.8 817.8 2085.6 813.4C2087.4 809.0 2088.8 804.4 2090.9 800.2C2092.7 796.5 2095.2 793.1 2097.5 789.7C2100.0 786.1 2102.8 782.6 2105.4 779.1C2108.0 775.6 2110.8 772.2 2113.3 768.6C2116.0 764.7 2118.3 760.4 2121.2 756.8C2124.3 753.0 2127.9 749.2 2131.7 746.2C2135.6 743.1 2140.2 740.1 2144.8 738.3C2149.8 736.3 2155.4 735.5 2160.6 733.8C2165.0 732.4 2169.3 730.2 2173.8 729.1C2178.1 728.0 2182.6 726.5 2187.0 726.5C2191.3 726.5 2195.8 726.5 2200.1 726.5C2204.6 726.5 2208.9 729.1 2213.3 730.4C2217.3 731.6 2221.2 733.8 2225.2 733.8C2229.1 733.8 2233.0 732.0 2237.0 731.7C2240.5 731.4 2244.0 731.2 2247.5 731.2C2252.0 731.2 2256.4 733.1 2260.7 734.4C2265.2 735.8 2269.7 737.6 2273.9 739.6C2278.5 741.8 2282.7 744.8 2287.0 747.5C2290.5 749.7 2294.1 751.9 2297.6 754.1C2301.1 756.3 2304.8 758.3 2308.1 760.7C2311.8 763.4 2314.8 767.4 2318.6 769.9C2321.8 772.0 2325.5 774.4 2329.2 775.2C2332.5 775.9 2336.2 776.5 2339.7 776.5C2343.6 776.5 2347.8 776.5 2351.5 776.5C2354.8 776.5 2358.2 773.4 2360.8 771.2C2363.9 768.5 2365.8 764.0 2368.7 760.7C2371.1 757.9 2374.0 755.4 2376.6 752.8C2379.2 750.2 2381.8 747.4 2384.5 744.9C2387.0 742.6 2389.7 738.3 2392.4 738.3C2394.9 738.3 2397.6 743.6 2400.3 743.6C2402.8 743.6 2405.7 741.1 2408.2 739.6C2410.9 738.0 2413.9 736.4 2416.1 734.4C2419.2 731.6 2421.4 727.3 2424.0 723.8C2426.6 720.3 2429.2 716.7 2431.9 713.3C2434.4 710.2 2437.2 707.2 2439.8 704.1"/>
</g>
<path class="ax" d="M383.0 35.6 H2470.3 M383.0 1713.3 H2470.3 M386.0 35.6 V1713.3 M2467.3 35.6 V1713.3 M353.0 1713.3 H386.0 M353.0 1516.0 H386.0 M353.0 1318.7 H386.0 M353.0 1121.4 H386.0 M353.0 924.1 H386.0 M353.0 726.8 H386.0 M353.0 529.5 H386.0 M353.0 332.2 H386.0 M353.0 134.9 H386.0 M370.0 1614.6 H386.0 M370.0 1417.3 H386.0 M370.0 1220.0 H386.0 M370.0 1022.7 H386.0 M370.0 825.4 H386.0 M370.0 628.1 H386.0 M370.0 430.8 H386.0 M370.0 233.5 H386.0 M370.0 36.2 H386.0 M386.0 1713.3 V1745.0 M956.3 1713.3 V1745.0 M1526.5 1713.3 V1745.0 M2096.8 1713.3 V1745.0 M671.1 1713.3 V1729.0 M1241.4 1713.3 V1729.0 M1811.7 1713.3 V1729.0 M2381.9 1713.3 V1729.0"/>
<text class="tk" transform="translate(329.5 1739.0) scale(1 1.035)" text-anchor="end">20</text>
<text class="tk" transform="translate(329.5 1541.7) scale(1 1.035)" text-anchor="end">30</text>
<text class="tk" transform="translate(329.5 1344.4) scale(1 1.035)" text-anchor="end">40</text>
<text class="tk" transform="translate(329.5 1147.1) scale(1 1.035)" text-anchor="end">50</text>
<text class="tk" transform="translate(329.5 949.8) scale(1 1.035)" text-anchor="end">60</text>
<text class="tk" transform="translate(329.5 752.5) scale(1 1.035)" text-anchor="end">70</text>
<text class="tk" transform="translate(329.5 555.2) scale(1 1.035)" text-anchor="end">80</text>
<text class="tk" transform="translate(329.5 357.9) scale(1 1.035)" text-anchor="end">90</text>
<text class="tk" transform="translate(329.5 160.6) scale(1 1.035)" text-anchor="end">100</text>
<text class="tk" transform="translate(386.0 1835.8) scale(1 1.035)" text-anchor="middle">4000</text>
<text class="tk" transform="translate(956.3 1835.8) scale(1 1.035)" text-anchor="middle">3000</text>
<text class="tk" transform="translate(1526.5 1835.8) scale(1 1.035)" text-anchor="middle">2000</text>
<text class="tk" transform="translate(2096.8 1835.8) scale(1 1.035)" text-anchor="middle">1000</text>
<text class="ti" transform="translate(135.7 1443.0) rotate(-90) scale(1 1.035)">Transmittance %</text>
<text class="ti" transform="translate(701.0 2012.0) scale(1 1.035)" style="font-size:142.4px">Wavenumber (cm<tspan font-size="96" dx="2.5" dy="-56.3">-1</tspan><tspan dx="3" dy="56.3">)</tspan></text>
<path class="ld" d="M649.0 475.3 L744.0 412.4 M713.2 534.0 L756.0 499.8 M710.0 1071.7 L755.5 1181.0 M710.0 1129.8 L755.5 1181.0 M947.4 305.9 L1001.5 198.1 M944.6 304.5 L1001.5 279.2 M1121.4 308.8 L1036.6 161.6 M1115.6 317.4 L1039.4 264.2 M1258.8 287.2 L1284.4 251.3 M1603.8 270.8 L1649.3 250.7 M1664.2 443.3 L1727.5 426.1 M1684.0 642.9 L1868.9 903.1 M1661.6 707.0 L1767.4 821.4 M1655.3 805.3 L1683.4 793.8 M1658.1 846.5 L1741.5 888.7 M1655.3 914.6 L1675.4 890.2 M1975.8 599.8 L2010.9 563.3 M1996.5 692.1 L2033.9 602.9 M2008.3 871.5 L2065.8 834.1 M1817.1 977.3 L1835.0 814.8 M1817.1 977.3 L1837.0 936.2 M1945.7 1000.0 L1869.5 827.8 M1945.7 1000.0 L1881.0 935.6 M2092.3 630.8 L2068.7 573.9 M2317.3 169.3 L2291.5 218.0 M2138.0 227.7 L2140.9 287.0 M2206.7 284.3 L2175.1 250.6 M2227.3 177.7 L2242.3 466.5 M2222.5 368.6 L2230.9 468.6 M2369.2 331.7 L2347.6 369.9 M2312.0 423.9 L2330.5 510.0 M2306.0 470.7 L2329.0 500.0 M2163.8 481.8 L2137.7 528.2 M2192.8 608.0 L2210.7 634.3 M2224.6 738.8 L2202.0 761.5 M2326.0 773.3 L2334.4 801.5 M2071.6 881.2 L2143.5 949.6 M2166.7 915.4 L2244.4 969.6 M2369.7 939.1 L2361.0 972.0 M2062.7 978.6 L2060.1 1030.5 M1733.5 1013.0 L1745.0 1041.5 M969.9 1001.3 L990.0 828.5 M971.0 993.8 L1001.5 960.2 M1120.0 1027.2 L1042.3 811.3 M1120.0 1027.2 L1048.1 947.3 M1875.2 1617.4 L1900.5 1570.0"/>
<text class="an" transform="translate(507.6 513.1) scale(1 1.045)">3366</text>
<text class="an" transform="translate(660.6 584.1) scale(1 1.045)">3346</text>
<text class="an" transform="translate(698.0 1215.0) scale(1 1.045)">3437</text>
<text class="an" transform="translate(896.6 350.8) scale(1 1.045)">2937</text>
<text class="an" transform="translate(1074.0 342.8) scale(1 1.045)">2849</text>
<text class="an" transform="translate(1227.2 327.6) scale(1 1.045)">2435</text>
<text class="an" transform="translate(1514.7 313.2) scale(1 1.045)">1790</text>
<text class="an" transform="translate(1555.0 456.4) scale(1 1.045)">1632</text>
<text class="an" transform="translate(1578.0 650.5) scale(1 1.045)">1400</text>
<text class="an" transform="translate(1557.8 725.8) scale(1 1.045)">1561</text>
<text class="an" transform="translate(1552.0 817.8) scale(1 1.045)">1740</text>
<text class="an" transform="translate(1549.2 857.5) scale(1 1.045)">1622</text>
<text class="an" transform="translate(1572.8 960.3) scale(1 1.045)">1750</text>
<text class="an" transform="translate(1902.5 643.9) scale(1 1.045)">1146</text>
<text class="an" transform="translate(1949.4 731.5) scale(1 1.045)">1116</text>
<text class="an" transform="translate(1942.2 907.3) scale(1 1.045)">1050</text>
<text class="an" transform="translate(2311.3 163.7) scale(1 1.045)">659</text>
<text class="an" transform="translate(2210.5 313.0) scale(1 1.045)">867</text>
<text class="an" transform="translate(2129.7 332.7) scale(1 1.045)">928</text>
<text class="an" transform="translate(2321.9 395.1) scale(1 1.045)">544</text>
<text class="an" transform="translate(2211.3 505.2) scale(1 1.045)">782</text>
<text class="an" transform="translate(2088.9 574.2) scale(1 1.045)">878</text>
<text class="an" transform="translate(2291.6 544.5) scale(1 1.045)">622</text>
<text class="an" transform="translate(2044.1 665.6) scale(1 1.045)">1045</text>
<text class="an" transform="translate(2195.5 659.8) scale(1 1.045)">837</text>
<text class="an" transform="translate(2171.0 800.7) scale(1 1.045)">766</text>
<text class="an" transform="translate(2294.2 841.5) scale(1 1.045)">573</text>
<text class="an" transform="translate(2096.8 994.6) scale(1 1.045)">1030</text>
<text class="an" transform="translate(2213.9 1009.1) scale(1 1.045)">883</text>
<text class="an" transform="translate(2317.4 1012.2) scale(1 1.045)">528</text>
<text class="an" transform="translate(2023.6 1078.0) scale(1 1.045)">1060</text>
<text class="an" transform="translate(1671.4 1085.0) scale(1 1.045)">1632</text>
<text class="an" transform="translate(1775.5 1020.3) scale(1 1.045)">1461</text>
<text class="an" transform="translate(1887.6 1028.9) scale(1 1.045)">1380</text>
<text class="an" transform="translate(940.6 1047.5) scale(1 1.045)">2926</text>
<text class="an" transform="translate(1064.8 1067.6) scale(1 1.045)">2855</text>
<text class="an" transform="translate(1826.6 1651.5) scale(1 1.045)">1349</text>
<path class="cv" stroke="#B400FF" style="stroke-width:15.2" d="M405.2 1485.2 H512"/>
<path class="cv" stroke="#0088FF" style="stroke-width:15.2" d="M405.2 1546.4 H512"/>
<path class="cv" stroke="#CCFF00" style="stroke-width:15.2" d="M405.2 1606.2 H512"/>
<path class="cv" stroke="#FF5500" style="stroke-width:15.2" d="M405.2 1677.5 H512"/>
<text class="lg" transform="translate(526.0 1500.7) scale(1 1.045)"><tspan font-style="italic">D.edaphica </tspan><tspan x="279.5">extract</tspan></text>
<text class="lg" transform="translate(538.5 1562.2) scale(1 1.045)">Cell free medium</text>
<text class="lg" transform="translate(526.0 1622.4) scale(1 1.045)">D<tspan font-size="33" dy="11.7">Bio</tspan><tspan dx="-2" dy="-11.7">@AuNPs</tspan></text>
<text class="lg" transform="translate(526.0 1694.2) scale(1 1.045)">D<tspan font-size="33" dy="11.9">Sup</tspan><tspan dx="-3" dy="-11.9">@AuNPs</tspan></text>
</svg></body></html>
